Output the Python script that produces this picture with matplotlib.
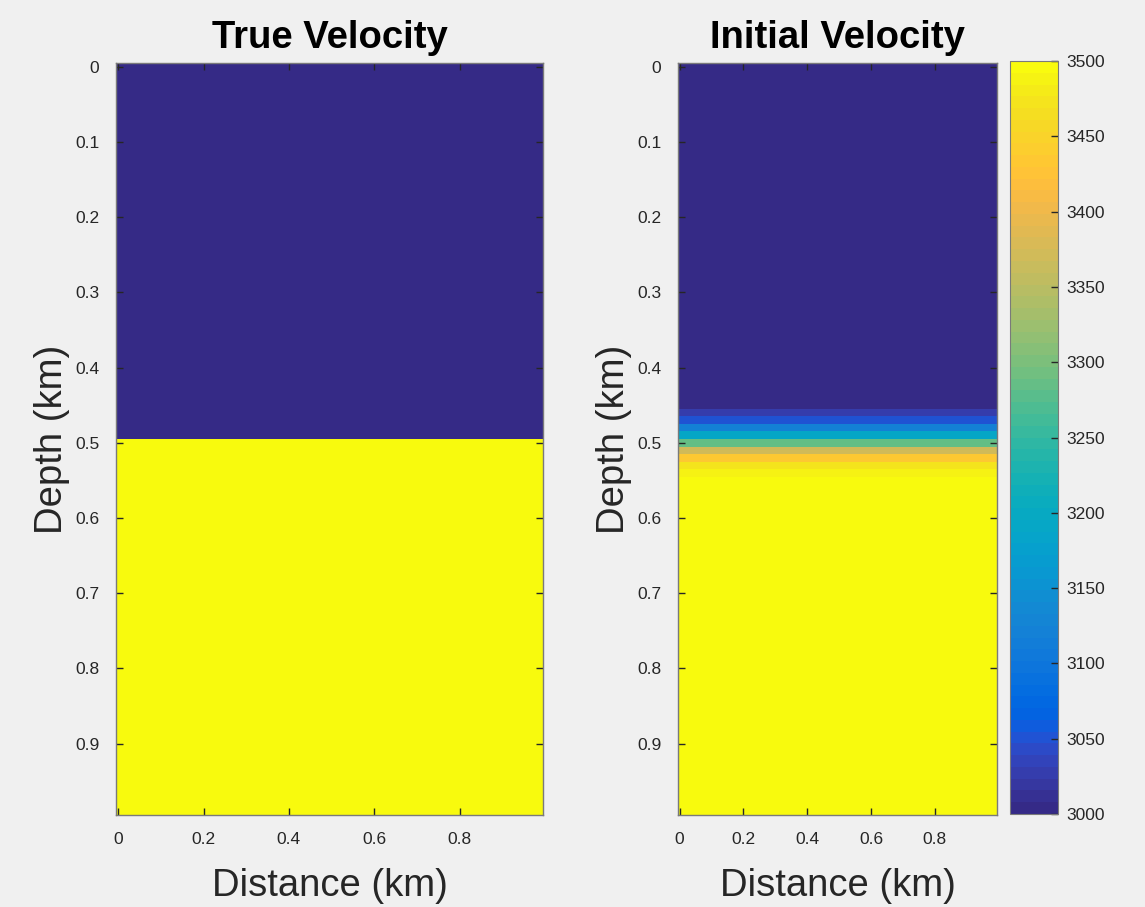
import numpy as np
import matplotlib
matplotlib.use("Agg")
import matplotlib.pyplot as plt
from matplotlib.colors import ListedColormap

# ---- data ----
nx, nz = 100, 100
dx = 0.01
x_km = np.arange(nx) * dx
z_km = np.arange(nz) * dx
v_top = 3000
v_bottom = 3500
interface_depth = 0.50  # km

# smoothed transition rows in the initial model (depth km -> velocity m/s)
trans_depths = [0.46, 0.47, 0.48, 0.49, 0.50, 0.51, 0.52, 0.53, 0.54]
trans_vels = [3025, 3048, 3120, 3195, 3285, 3370, 3430, 3470, 3490]

clim = (3000, 3500)
cbar_ticks = [3000, 3050, 3100, 3150, 3200, 3250, 3300, 3350, 3400, 3450, 3500]
x_ticks = [0, 0.2, 0.4, 0.6, 0.8]
y_ticks = [0, 0.1, 0.2, 0.3, 0.4, 0.5, 0.6, 0.7, 0.8, 0.9]

# MATLAB parula (64 entries)
parula = [
[0.2081,0.1663,0.5292],[0.2116,0.1898,0.5777],[0.2123,0.2138,0.6270],[0.2081,0.2386,0.6771],
[0.1959,0.2645,0.7279],[0.1707,0.2919,0.7792],[0.1253,0.3242,0.8303],[0.0591,0.3598,0.8683],
[0.0117,0.3875,0.8820],[0.0060,0.4086,0.8828],[0.0165,0.4266,0.8786],[0.0329,0.4430,0.8720],
[0.0498,0.4586,0.8641],[0.0629,0.4737,0.8554],[0.0723,0.4887,0.8467],[0.0779,0.5040,0.8384],
[0.0793,0.5200,0.8312],[0.0749,0.5375,0.8263],[0.0641,0.5570,0.8240],[0.0488,0.5772,0.8228],
[0.0343,0.5966,0.8199],[0.0265,0.6137,0.8135],[0.0239,0.6287,0.8038],[0.0231,0.6418,0.7913],
[0.0228,0.6535,0.7768],[0.0267,0.6642,0.7607],[0.0384,0.6743,0.7436],[0.0590,0.6838,0.7254],
[0.0843,0.6928,0.7062],[0.1133,0.7015,0.6859],[0.1453,0.7098,0.6646],[0.1801,0.7177,0.6424],
[0.2178,0.7250,0.6193],[0.2586,0.7317,0.5954],[0.3022,0.7376,0.5712],[0.3482,0.7424,0.5473],
[0.3953,0.7459,0.5244],[0.4420,0.7481,0.5033],[0.4871,0.7491,0.4840],[0.5300,0.7491,0.4661],
[0.5709,0.7485,0.4494],[0.6099,0.7473,0.4337],[0.6473,0.7456,0.4188],[0.6834,0.7435,0.4044],
[0.7184,0.7411,0.3905],[0.7525,0.7384,0.3768],[0.7858,0.7356,0.3633],[0.8185,0.7327,0.3498],
[0.8507,0.7299,0.3360],[0.8824,0.7274,0.3217],[0.9139,0.7258,0.3063],[0.9450,0.7261,0.2886],
[0.9739,0.7314,0.2666],[0.9938,0.7455,0.2403],[0.9990,0.7653,0.2164],[0.9955,0.7861,0.1967],
[0.9880,0.8066,0.1794],[0.9789,0.8271,0.1633],[0.9697,0.8481,0.1475],[0.9626,0.8705,0.1309],
[0.9589,0.8949,0.1132],[0.9598,0.9218,0.0948],[0.9661,0.9514,0.0755],[0.9763,0.9831,0.0538]]
cmap = ListedColormap(parula)

# ---- build models ----
Z = np.repeat(z_km[:, None], nx, axis=1)
true_v = np.where(Z < interface_depth - 1e-9, v_top, v_bottom).astype(float)
init_v = np.where(Z < trans_depths[0] - 1e-9, v_top, v_bottom).astype(float)
for d, v in zip(trans_depths, trans_vels):
    idx = int(round(d / dx))
    init_v[idx, :] = v

extent = [x_km[0] - dx / 2, x_km[-1] + dx / 2, z_km[-1] + dx / 2, z_km[0] - dx / 2]

bg = "#f0f0f0"
fig = plt.figure(figsize=(11.45, 9.07), dpi=100, facecolor=bg)
plt.rcParams['font.family'] = ['Liberation Sans', 'DejaVu Sans']

W, H = 1145, 907
def rect(x0, y0, x1, y1):
    return [x0 / W, 1 - y1 / H, (x1 - x0) / W, (y1 - y0) / H]

ax1 = fig.add_axes(rect(116, 63, 543, 815))
ax2 = fig.add_axes(rect(678, 63, 997, 815))
cax = fig.add_axes(rect(1010, 61, 1058, 814))

tick_color = "#262626"
for ax, data, title in [(ax1, true_v, "True Velocity"), (ax2, init_v, "Initial Velocity")]:
    im = ax.imshow(data, cmap=cmap, vmin=clim[0], vmax=clim[1], extent=extent,
                   aspect='auto', interpolation='nearest')
    ax.set_xticks(x_ticks)
    ax.set_xticklabels([f"{t:g}" for t in x_ticks])
    ax.set_yticks(y_ticks)
    ax.set_yticklabels([f"{t:g}" for t in y_ticks])
    ax.tick_params(direction='in', length=5, width=1, top=True, right=True,
                   labelsize=12.5, labelcolor=tick_color, color=tick_color, pad=12)
    for s in ax.spines.values():
        s.set_color("#7a7a7a")
        s.set_linewidth(1.0)
    ax.set_title(title, fontsize=27.5, fontweight='bold', pad=11)
    ax.set_xlabel("Distance (km)", fontsize=27.5, color="#262626", labelpad=15)
    ax.set_ylabel("Depth (km)", fontsize=27.5, color="#262626", labelpad=4)

cb = fig.colorbar(im, cax=cax, ticks=cbar_ticks)
cb.ax.tick_params(direction='in', length=5, width=1, labelsize=12.5,
                  labelcolor=tick_color, color=tick_color, pad=6)
cb.outline.set_edgecolor("#7a7a7a")

fig.savefig("out.png", dpi=100, facecolor=bg)
